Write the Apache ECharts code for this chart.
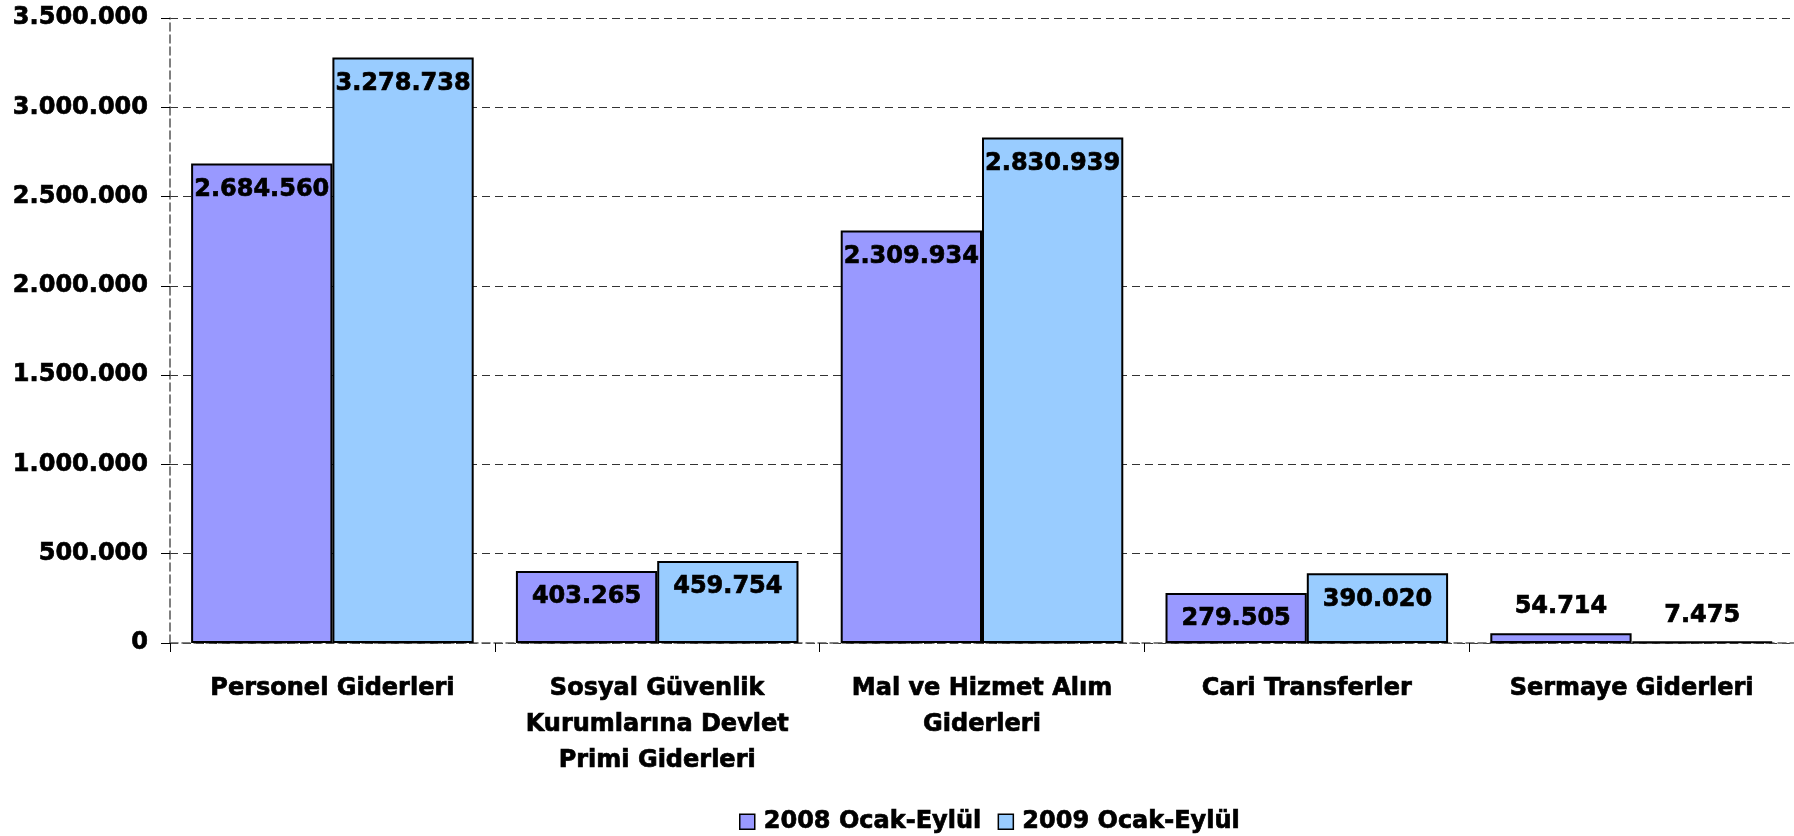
<!DOCTYPE html>
<html>
<head>
<meta charset="utf-8">
<script src="https://cdn.jsdelivr.net/npm/echarts@6/dist/echarts.min.js"></script>
<style>
  html, body { margin: 0; padding: 0; background: #fff; }
  #chart { width: 1794px; height: 836px; }
</style>
</head>
<body>
<div id="chart"></div>
<script>
// Expenditure categories (axis labels, with line breaks)
const categories = [
  'Personel Giderleri',
  'Sosyal Güvenlik\nKurumlarına Devlet\nPrimi Giderleri',
  'Mal ve Hizmet Alım\nGiderleri',
  'Cari Transferler',
  'Sermaye Giderleri'
];
const seriesNames = ['2008 Ocak-Eylül', '2009 Ocak-Eylül'];
const values2008 = [2684560, 403265, 2309934, 279505, 54714];
const values2009 = [3278738, 459754, 2830939, 390020, 7475];
// Value axis range and step
const yMin = 0;
const yMax = 3500000;
const yStep = 500000;

const FONT = '"DejaVu Sans", Verdana, sans-serif';
// thin outline in the text colour gives the heavy bold look
const heavy = { textBorderColor: '#000', textBorderWidth: 0.7 };

// Turkish thousands separator: 3500000 -> 3.500.000
function fmt(v) {
  return String(Math.round(v)).replace(/\B(?=(\d{3})+(?!\d))/g, '.');
}

// Short bars get their label above the bar, tall bars inside the top
function buildData(values) {
  return values.map(v => {
    const small = v < 150000;
    return {
      value: v,
      label: small
        ? { position: 'top', distance: 14 }
        : { position: 'insideTop', distance: 14 }
    };
  });
}

const labelStyle = Object.assign({
  show: true,
  formatter: p => fmt(p.value),
  fontFamily: FONT,
  fontWeight: 'bold',
  fontSize: 24,
  color: '#000'
}, heavy);

const chart = echarts.init(document.getElementById('chart'), null, { renderer: 'canvas' });
chart.setOption({
  animation: false,
  backgroundColor: '#fff',
  grid: { left: 170, right: -3, top: 18, bottom: 193, containLabel: false },
  legend: {
    bottom: -3,
    left: 734,
    icon: 'rect',
    itemWidth: 15,
    itemHeight: 15,
    itemGap: 16,
    itemStyle: { borderColor: '#000', borderWidth: 1.5 },
    textStyle: Object.assign({ fontFamily: FONT, fontWeight: 'bold', fontSize: 24, color: '#000', padding: [0, 0, 0, 4] }, heavy),
    data: seriesNames
  },
  xAxis: {
    type: 'category',
    data: categories,
    axisLine: { show: true, lineStyle: { color: '#555', type: [8, 4], width: 1.5 } },
    axisTick: { show: true, alignWithLabel: false, length: 9, lineStyle: { color: '#000', width: 1 } },
    axisLabel: Object.assign({
      interval: 0,
      margin: 28,
      fontFamily: FONT,
      fontWeight: 'bold',
      fontSize: 24,
      lineHeight: 36,
      color: '#000'
    }, heavy)
  },
  yAxis: {
    type: 'value',
    min: yMin,
    max: yMax,
    interval: yStep,
    axisLine: { show: true, lineStyle: { color: '#555', type: [8, 4], width: 1.5 } },
    axisTick: { show: true, length: 9, lineStyle: { color: '#000', width: 1 } },
    splitLine: { show: true, lineStyle: { color: '#333', type: [8, 5], width: 1 } },
    axisLabel: Object.assign({
      margin: 22,
      formatter: v => fmt(v),
      fontFamily: FONT,
      fontWeight: 'bold',
      fontSize: 24,
      color: '#000'
    }, heavy)
  },
  series: [
    {
      name: seriesNames[0],
      type: 'bar',
      data: buildData(values2008),
      barGap: '0%',
      barCategoryGap: '13%',
      itemStyle: { color: '#9999FF', borderColor: '#000', borderWidth: 2 },
      label: labelStyle
    },
    {
      name: seriesNames[1],
      type: 'bar',
      data: buildData(values2009),
      barGap: '0%',
      barCategoryGap: '13%',
      itemStyle: { color: '#99CCFF', borderColor: '#000', borderWidth: 2 },
      label: labelStyle
    }
  ]
});
</script>
</body>
</html>
